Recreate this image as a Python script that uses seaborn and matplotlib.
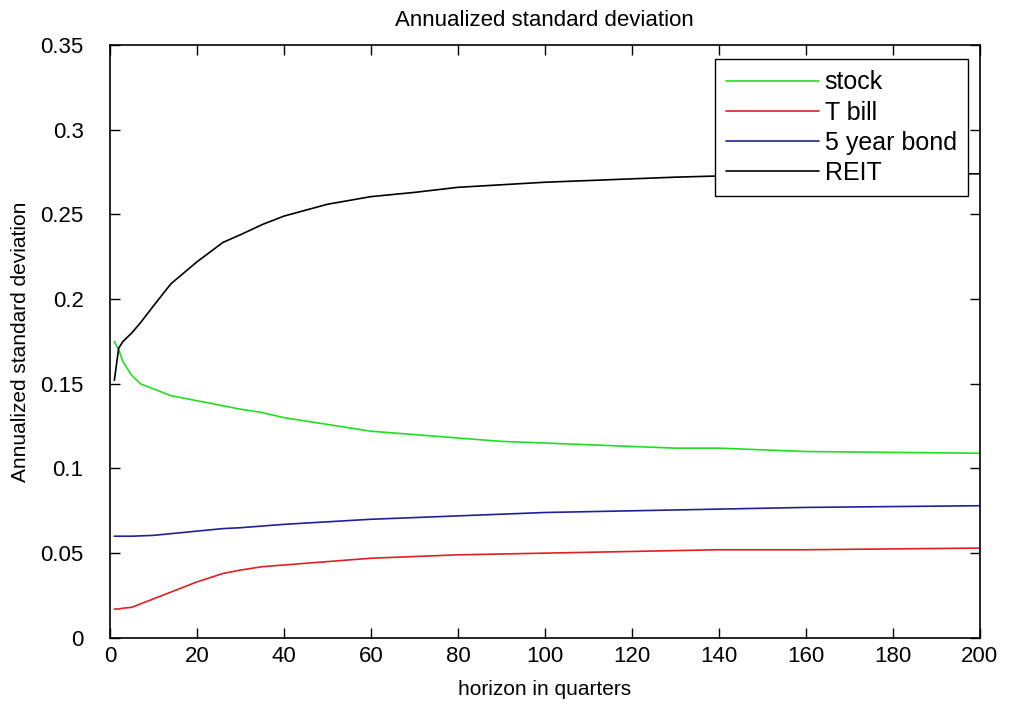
import pandas as pd
import matplotlib.pyplot as plt
import seaborn as sns

# === Data ===
quarters = [1, 2, 3, 5, 7, 10, 14, 20, 26, 30, 35, 40, 50, 60, 70, 80, 90,
            100, 110, 120, 130, 140, 160, 180, 200]
stock = [0.175, 0.170, 0.163, 0.155, 0.150, 0.147, 0.143, 0.140, 0.137, 0.135,
         0.133, 0.130, 0.126, 0.122, 0.120, 0.118, 0.116, 0.115, 0.114, 0.113,
         0.112, 0.112, 0.110, 0.1095, 0.109]
tbill = [0.017, 0.017, 0.0175, 0.018, 0.020, 0.023, 0.027, 0.033, 0.038, 0.040,
         0.042, 0.043, 0.045, 0.047, 0.048, 0.049, 0.0495, 0.050, 0.0505, 0.051,
         0.0515, 0.052, 0.052, 0.0525, 0.053]
bond5 = [0.060, 0.060, 0.060, 0.060, 0.0602, 0.0605, 0.0615, 0.063, 0.0645, 0.065,
         0.066, 0.067, 0.0685, 0.070, 0.071, 0.072, 0.073, 0.074, 0.0745, 0.075,
         0.0755, 0.076, 0.077, 0.0775, 0.078]
reit = [0.152, 0.171, 0.175, 0.180, 0.186, 0.196, 0.209, 0.222, 0.2335, 0.238,
        0.244, 0.249, 0.256, 0.2605, 0.263, 0.266, 0.2675, 0.269, 0.270, 0.271,
        0.272, 0.2727, 0.2732, 0.2736, 0.274]

series_names = ["stock", "T bill", "5 year bond", "REIT"]
series_values = [stock, tbill, bond5, reit]
series_colors = ["#22dd22", "#dd2020", "#20209a", "#000000"]

xticks = list(range(0, 201, 20))
yticks = [0, 0.05, 0.1, 0.15, 0.2, 0.25, 0.3, 0.35]
ytick_labels = ["0", "0.05", "0.1", "0.15", "0.2", "0.25", "0.3", "0.35"]

# === Plot ===
sns.set_style("ticks")
plt.rcParams["font.family"] = ["Liberation Sans", "DejaVu Sans"]
plt.rcParams["text.color"] = "black"
plt.rcParams["axes.labelcolor"] = "black"
plt.rcParams["xtick.color"] = "black"
plt.rcParams["ytick.color"] = "black"

fig = plt.figure(figsize=(10.09, 7.04), dpi=100)
ax = fig.add_axes([0.109, 0.094, 0.862, 0.842])

for name, vals, col in zip(series_names, series_values, series_colors):
    df = pd.DataFrame({"quarter": quarters, "sd": vals})
    sns.lineplot(data=df, x="quarter", y="sd", color=col, linewidth=1.2,
                 label=name, ax=ax)

ax.set_xlim(0, 200)
ax.set_ylim(0, 0.35)
ax.set_xticks(xticks)
ax.set_yticks(yticks)
ax.set_yticklabels(ytick_labels)
ax.tick_params(direction="in", length=7, width=1, labelsize=16,
               top=True, right=True)
ax.tick_params(axis="y", pad=19)
ax.tick_params(axis="x", pad=6)
for s in ax.spines.values():
    s.set_linewidth(1.2)
    s.set_visible(True)
    s.set_color("black")

ax.set_title("Annualized standard deviation", fontsize=16, pad=14)
ax.set_xlabel("horizon in quarters", fontsize=15, labelpad=9)
ax.set_ylabel("Annualized standard deviation", fontsize=15, labelpad=7)

leg = ax.legend(loc="upper right", bbox_to_anchor=(968 / 1009, (704 - 59) / 704),
                bbox_transform=fig.transFigure, fontsize=18, handlelength=3.7,
                handletextpad=0.24, borderpad=0.45, borderaxespad=0,
                labelspacing=0.25, fancybox=False, framealpha=1,
                edgecolor="black")
leg.get_frame().set_linewidth(1.0)

fig.savefig("out.png", dpi=100)
